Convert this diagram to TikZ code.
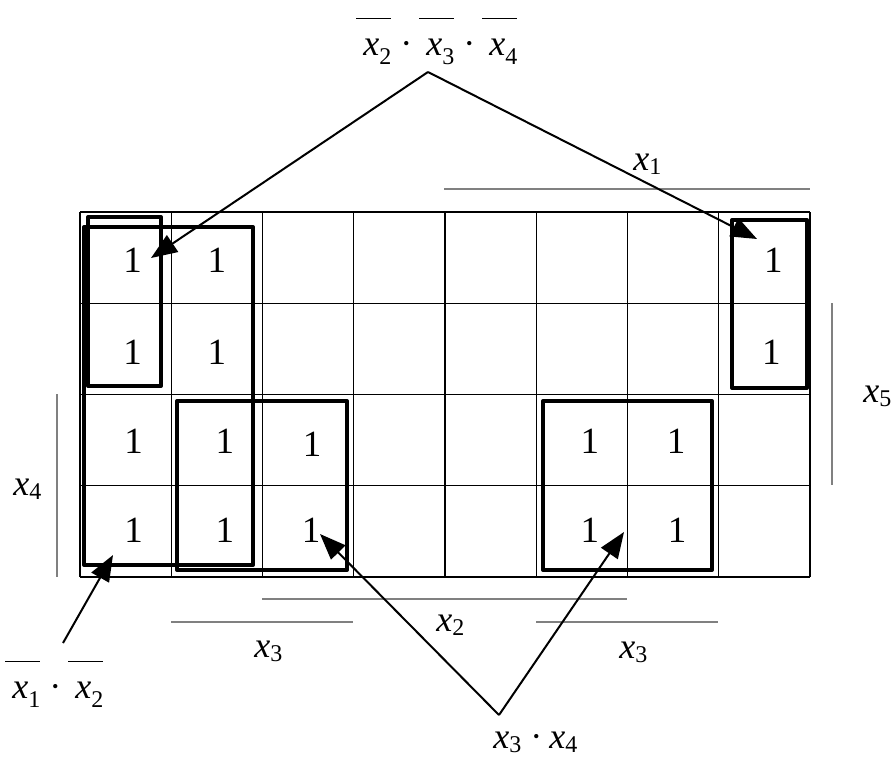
\documentclass[tikz,border=0pt]{standalone}
\usepackage{fontspec}
\setmainfont{Liberation Serif}
\usetikzlibrary{arrows.meta,positioning,calc}
\definecolor{kmInk}{HTML}{000000}
\definecolor{kmRule}{HTML}{808080}
\newcommand{\xv}[2][2.2pt]{\textit{x}\raisebox{-#1}{\fontsize{12}{12}\selectfont #2}}
\newcommand{\nx}[1]{\vbox{\hrule height 0.6pt\vskip 9.5pt\hbox{\kern3.5pt\xv[4.5pt]{#1}}}}
\newcommand{\mdot}{\hspace{4.5pt}\textperiodcentered\hspace{3.5pt}}
\tikzset{
  gridln/.style={draw=kmInk, line width=0.55pt},
  one/.style={inner sep=0pt, font=\fontsize{18.5}{20}\selectfont},
  grp/.style={draw=kmInk, line width=2pt, line join=round},
  arr/.style={-{Triangle[length=13pt, width=10pt]}, line width=1pt, draw=kmInk},
  lbl/.style={inner sep=0pt, anchor=base west, font=\fontsize{18}{20}\selectfont},
  varln/.style={draw=kmRule, line width=0.7pt},
}
\begin{document}
\begin{tikzpicture}[x=0.5pt, y=-0.5pt]
  \useasboundingbox (0,0) rectangle (892,756);
  \foreach \i in {0,...,8} \draw[gridln] (80+\i*91.25,212) -- (80+\i*91.25,577);
  \foreach \j in {0,...,4} \draw[gridln] (80,212+\j*91.25) -- (810,212+\j*91.25);
  \foreach \c/\r/\dx/\dy in {0/0/7/3, 1/0/0/3, 7/0/9/3, 0/1/7/3, 1/1/0/3, 7/1/7/3,
      0/2/8/1, 1/2/8/1, 2/2/4/4, 5/2/8/1, 6/2/3/1,
      0/3/8/-1, 1/3/8/-1, 2/3/3/-1, 5/3/8/-1, 6/3/4/-1}
    \node[one] (c\c\r) at (125.6+\c*91.25+\dx, 257.6+\r*91.25+\dy) {1};
  \draw[grp] (88,217) rectangle (161,386);
  \draw[grp] (84,227) rectangle (253,565);
  \draw[grp] (177,401) rectangle (347,570);
  \draw[grp] (543,401) rectangle (712,570);
  \draw[grp] (732,220) rectangle (807,388);
  \draw[varln] (444,189) -- (810,189);
  \draw[varln] (832,303) -- (832,485);
  \draw[varln] (57,394) -- (57,577);
  \draw[varln] (262,599) -- (627,599);
  \draw[varln] (171,622) -- (353,622);
  \draw[varln] (536,622) -- (718,622);
  \node[lbl] (vx1) at (633,170) {\xv{1}};
  \node[lbl] (vx5) at (863,402) {\xv{5}};
  \node[lbl] (vx4) at (13,495) {\xv{4}};
  \node[lbl] (vx2) at (436,631) {\xv{2}};
  \node[lbl] (vx3a) at (254,657) {\xv{3}};
  \node[lbl] (vx3b) at (619,658) {\xv{3}};
  \node[lbl] (fTop) at (356,55) {\nx{2}\mdot\nx{3}\mdot\nx{4}};
  \node[lbl] (fLeft) at (5,698) {\nx{1}\mdot\nx{2}};
  \node[lbl] (fBot) at (493,748) {\xv{3}\mdot\xv{4}};
  \coordinate (topV) at (428,72);
  \coordinate (leftV) at (63,643);
  \coordinate (botV) at (499,715);
  \coordinate (tipA) at (151,258);
  \coordinate (tipB) at (757,239);
  \coordinate (tipC) at (113,555);
  \coordinate (tipD) at (320,534);
  \coordinate (tipE) at (624,532);
  \draw[arr] (topV) -- (tipA);
  \draw[arr] (topV) -- (tipB);
  \draw[arr] (leftV) -- (tipC);
  \draw[arr] (botV) -- (tipD);
  \draw[arr] (botV) -- (tipE);
\end{tikzpicture}
\end{document}
